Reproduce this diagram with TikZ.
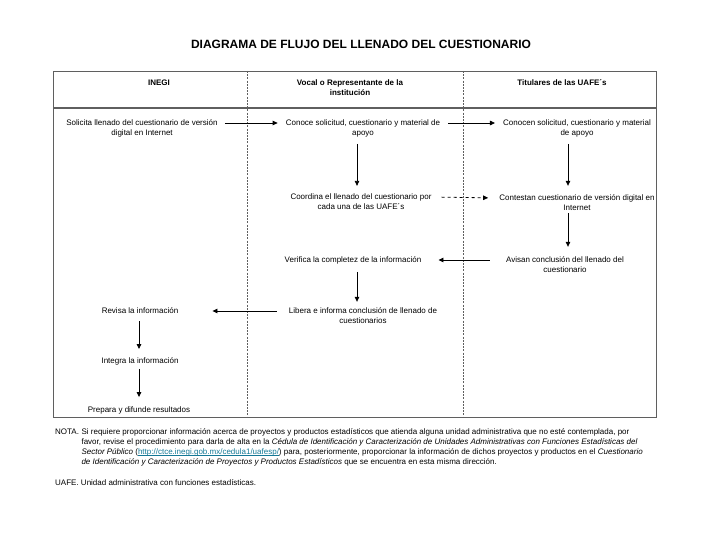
\documentclass[tikz,border=0pt]{standalone}
\usepackage{fontspec}
\setmainfont{Liberation Sans}
\usetikzlibrary{arrows.meta,calc,positioning}
\definecolor{lanegray}{RGB}{95,95,95}
\definecolor{linkteal}{RGB}{20,120,150}
\newcommand{\uafelink}[1]{\textcolor{linkteal}{\setbox0\hbox{#1}\rlap{\rule[-1pt]{\wd0}{.4pt}}\box0}}

\begin{document}
\begin{tikzpicture}[x=1pt,y=-1pt,>={Triangle[length=5pt,width=4.5pt]},
  txt/.style={font=\fontsize{8}{10}\selectfont,align=center,inner sep=0pt},
  head/.style={txt,font=\fontsize{8}{10}\selectfont\bfseries},
  flow/.style={->,line width=.8pt},
  lanesep/.style={lanegray,line width=.7pt,dash pattern=on 2pt off 1.2pt}]
 \useasboundingbox (0,0) rectangle (720,540);
 \node[font=\fontsize{12}{14}\selectfont\bfseries] (title) at (361,44)
  {DIAGRAMA DE FLUJO DEL LLENADO DEL CUESTIONARIO};
 \draw[lanegray,line width=.9pt] (53,71) rectangle (656,417);
 \draw[lanegray,line width=1.2pt] (53,108)--(656,108);
 \draw[lanesep] (247,71)--(247,417);
 \draw[lanesep] (463,71)--(463,417);
 \node[head] (inegi) at (159,83) {INEGI};
 \node[head] (vocal) at (350,88) {Vocal o Representante de la\\institución};
 \node[head] (titulares) at (562,83) {Titulares de las UAFE´s};
 \coordinate (colA) at (139,0);
 \coordinate (colB) at (357,0);
 \coordinate (colC) at (568,0);
 \node[txt] (solicita) at (142,128)
  {Solicita llenado del cuestionario de versión\\digital en Internet};
 \node[txt] (conoce) at (363,128)
  {Conoce solicitud, cuestionario y material de\\apoyo};
 \node[txt] (conocen) at (577,128)
  {Conocen solicitud, cuestionario y material\\de apoyo};
 \node[txt] (coordina) at (361,202)
  {Coordina el llenado del cuestionario por\\cada una de las UAFE´s};
 \node[txt] (contestan) at (577,203)
  {Contestan cuestionario de versión digital en\\Internet};
 \node[txt] (verifica) at (353,260) {Verifica la completez de la información};
 \node[txt] (avisan) at (565,265)
  {Avisan conclusión del llenado del\\cuestionario};
 \node[txt] (libera) at (363,316)
  {Libera e informa conclusión de llenado de\\cuestionarios};
 \node[txt] (revisa) at (140,311) {Revisa la información};
 \node[txt] (integra) at (140,361) {Integra la información};
 \node[txt] (prepara) at (139,410) {Prepara y difunde resultados};
 \draw[flow,shorten <=7pt,shorten >=8pt]
  ([yshift=5pt]solicita.east) -- ([yshift=5pt]conoce.west);
 \draw[flow,shorten <=8pt,shorten >=8pt]
  ([yshift=5pt]conoce.east) -- ([yshift=5pt]conocen.west);
 \draw[flow,shorten <=7pt,shorten >=8pt]
  (conoce.south -| colB) -- (coordina.north -| colB);
 \draw[flow,shorten <=7pt,shorten >=9pt]
  (conocen.south -| colC) -- (contestan.north -| colC);
 \draw[flow,dashed,shorten <=10pt,shorten >=11pt]
  ([yshift=5pt]coordina.east) -- ([yshift=5pt]contestan.west);
 \draw[flow,shorten <=2pt,shorten >=10pt]
  (contestan.south -| colC) -- (avisan.north -| colC);
 \draw[flow,shorten <=16pt,shorten >=17pt]
  ([yshift=5pt]avisan.west) -- (verifica.east);
 \draw[flow,shorten <=8pt,shorten >=6pt]
  (verifica.south -| colB) -- (libera.north -| colB);
 \draw[flow,shorten <=12pt,shorten >=34pt]
  ([yshift=5pt]libera.west) -- (revisa.east);
 \draw[flow,shorten <=7pt,shorten >=8pt]
  (revisa.south -| colA) -- (integra.north -| colA);
 \draw[flow,shorten <=4pt,shorten >=9pt]
  (integra.south -| colA) -- (prepara.north -| colA);
 \node[anchor=north west,inner sep=0pt,font=\fontsize{8}{10.2}\selectfont] (nota) at (55,427)
  {\begin{tabular}{@{}l@{\hspace{2.5pt}}l@{}}
  NOTA. & Si requiere proporcionar información acerca de proyectos y productos estadísticos que atienda alguna unidad administrativa que no esté contemplada, por\\
  & favor, revise el procedimiento para darla de alta en la \textit{Cédula de Identificación y Caracterización de Unidades Administrativas con Funciones Estadísticas del}\\
  & \textit{Sector Público} (\uafelink{http://ctce.inegi.gob.mx/cedula1/uafesp/}) para, posteriormente, proporcionar la información de dichos proyectos y productos en el \textit{Cuestionario}\\
  & \textit{de Identificación y Caracterización de Proyectos y Productos Estadísticos} que se encuentra en esta misma dirección.
  \end{tabular}};
 \node[anchor=west,inner sep=0pt,font=\fontsize{8}{10}\selectfont] (uafe) at (55,483)
  {UAFE. Unidad administrativa con funciones estadísticas.};
\end{tikzpicture}
\end{document}
